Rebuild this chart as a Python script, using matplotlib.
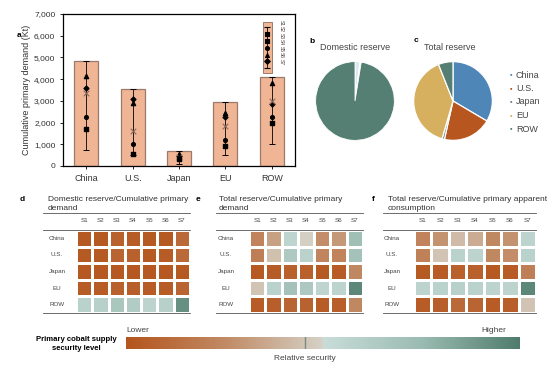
import matplotlib
matplotlib.use("Agg")
import matplotlib.pyplot as plt
import numpy as np
from matplotlib.colors import LinearSegmentedColormap
from matplotlib.patches import Rectangle
from matplotlib.lines import Line2D

plt.rcParams['font.family'] = ['Liberation Sans', 'DejaVu Sans']

# ---- data ----
regions = ['China', 'U.S.', 'Japan', 'EU', 'ROW']
demand_max = [4820, 3550, 700, 2950, 4100]
demand_min = [750, 500, 100, 500, 1000]
pt_tri = [4150, 2900, 550, 2450, 3800]
pt_dia = [3600, 3100, 480, 2250, 2850]
pt_x = [3350, 1600, 400, 1850, 3000]
pt_circ = [2250, 1000, 350, 1200, 2250]
pt_sq = [1700, 550, 300, 900, 2000]

domestic_share = [2.0, 0.2, 0.05, 0.3, 97.45]
total_share = [33.5, 20.0, 1.0, 39.5, 6.0]
pie_colors = ['#4e86b8', '#b8561f', '#6b8191', '#d6b05e', '#557f72']
pie_colors_b = ['#dde8f0', '#f0dcd0', '#e0e4e8', '#f3ead6', '#557f72']

scen = ['S1', 'S2', 'S3', 'S4', 'S5', 'S6', 'S7']
# 0 = lower security, 0.5 = relative security, 1 = higher
heat_d = [[0.03, 0.03, 0.06, 0.04, 0.03, 0.03, 0.10],
          [0.03, 0.03, 0.08, 0.06, 0.03, 0.04, 0.10],
          [0.02, 0.02, 0.02, 0.02, 0.02, 0.02, 0.03],
          [0.04, 0.04, 0.06, 0.05, 0.04, 0.04, 0.08],
          [0.58, 0.60, 0.67, 0.63, 0.57, 0.60, 0.92]]
heat_e = [[0.22, 0.33, 0.56, 0.49, 0.26, 0.30, 0.72],
          [0.20, 0.44, 0.65, 0.58, 0.23, 0.22, 0.70],
          [0.03, 0.04, 0.06, 0.06, 0.03, 0.04, 0.24],
          [0.45, 0.58, 0.70, 0.66, 0.56, 0.57, 0.95],
          [0.04, 0.05, 0.08, 0.07, 0.04, 0.05, 0.24]]
heat_f = [[0.22, 0.28, 0.42, 0.37, 0.24, 0.28, 0.57],
          [0.21, 0.45, 0.58, 0.57, 0.24, 0.26, 0.58],
          [0.03, 0.04, 0.06, 0.06, 0.03, 0.04, 0.20],
          [0.57, 0.58, 0.60, 0.58, 0.57, 0.57, 0.95],
          [0.04, 0.05, 0.10, 0.08, 0.04, 0.05, 0.45]]

W, H = 554, 369

def px(x0, y0, x1, y1):
    return [x0 / W, 1 - y1 / H, (x1 - x0) / W, (y1 - y0) / H]

def fx(x):
    return x / W

def fy(y):
    return 1 - y / H

fig = plt.figure(figsize=(5.54, 3.69), dpi=100)

# ---- panel a ----
ax = fig.add_axes(px(63, 14, 295, 166))
xs = np.arange(len(regions))
ax.bar(xs, demand_max, width=0.52, color='#f0b595', edgecolor='#9c7a6c', linewidth=0.9, zorder=1)
mid = (np.array(demand_max) + np.array(demand_min)) / 2
err = (np.array(demand_max) - np.array(demand_min)) / 2
ax.errorbar(xs, mid, yerr=err, fmt='none', ecolor='black', elinewidth=0.6, capsize=2.5, capthick=0.7, zorder=2)
ax.scatter(xs, pt_tri, marker='^', s=9, color='black', zorder=3)
ax.scatter(xs, pt_dia, marker='D', s=6, color='black', zorder=3)
ax.scatter(xs, pt_x, marker='x', s=16, color='#8a6a5e', linewidths=0.8, zorder=3)
ax.scatter(xs, pt_circ, marker='o', s=7, color='black', zorder=3)
ax.scatter(xs, pt_sq, marker='s', s=7, color='black', zorder=3)
ax.set_xlim(-0.5, 4.5)
ax.set_ylim(0, 7000)
ax.set_yticks(range(0, 7001, 1000))
ax.set_yticklabels(['{:,}'.format(v) for v in range(0, 7001, 1000)], fontsize=6, color='#333333')
ax.set_xticks(xs)
ax.set_xticklabels(regions, fontsize=6.5, color='#333333')
ax.tick_params(axis='both', length=2, width=0.6)
for s in ax.spines.values():
    s.set_linewidth(0.9)
ax.set_ylabel('Cumulative primary demand (Kt)', fontsize=6.5, color='#333333', labelpad=2)
fig.text(fx(17), fy(37), 'a', fontsize=6, fontweight='bold')

# rotated legend inside panel a
lg_x0, lg_x1 = 3.81, 4.0
ax.add_patch(Rectangle((lg_x0, 4300), lg_x1 - lg_x0, 2330, facecolor='#f0b595',
                       edgecolor='#9c7a6c', linewidth=0.7, zorder=4))
lg_mark = ['_', 's', 's', 'o', '^', 'D', '_']
lg_y = np.linspace(6400, 4500, 7)
lcx = (lg_x0 + lg_x1) / 2
ax.vlines(lcx, 4500, 6400, color='black', linewidth=0.6, zorder=5)
for m, yv in zip(lg_mark, lg_y):
    ax.scatter(lcx, yv, marker=m, s=8 if m != '_' else 18, color='black', linewidths=0.8, zorder=6)
for lab, yv in zip(scen, np.linspace(6600, 4800, 7)):
    ax.text(4.2, yv, lab, rotation=-90, fontsize=3.6, ha='center', va='center', color='#444444')

# ---- panel b / c pies ----
axb = fig.add_axes(px(315, 61, 395, 141))
axb.pie(domestic_share, colors=pie_colors_b, startangle=90, counterclock=False, radius=1.23,
        wedgeprops=dict(edgecolor='white', linewidth=0.6))
axb.set_aspect('equal')
fig.text(fx(355), fy(48), 'Domestic reserve', fontsize=6.5, ha='center', va='center', color='#444444')
fig.text(fx(309), fy(43), 'b', fontsize=6, fontweight='bold')

axc = fig.add_axes(px(413, 61, 493, 141))
axc.pie(total_share, colors=pie_colors, startangle=90, counterclock=False, radius=1.23,
        wedgeprops=dict(edgecolor='white', linewidth=0.9))
axc.set_aspect('equal')
fig.text(fx(450), fy(48), 'Total reserve', fontsize=6.5, ha='center', va='center', color='#444444')
fig.text(fx(414), fy(42), 'c', fontsize=6, fontweight='bold')

for i, (lab, c) in enumerate(zip(regions, pie_colors)):
    yy = fy(75 + i * 13.5)
    fig.text(fx(511), yy, '\u25aa', fontsize=5, color=c, ha='center', va='center')
    fig.text(fx(516), yy, lab, fontsize=6.5, color='#444444', ha='left', va='center')

# ---- heatmaps ----
cmap = LinearSegmentedColormap.from_list('sec', [
    (0.0, '#b5541c'), (0.25, '#c18a64'), (0.499, '#d5d2c7'),
    (0.501, '#c9ddd8'), (0.75, '#9bbcb2'), (1.0, '#4f7c6c')])

def heat(data, x0, x1, lab, lab_x, title, title_x, row_x, line_x0):
    a = fig.add_axes(px(x0, 230, x1, 313))
    a.pcolormesh(np.array(data), cmap=cmap, vmin=0, vmax=1, edgecolors='white', linewidth=0.8)
    a.set_xlim(0, 7)
    a.set_ylim(5, 0)
    a.axis('off')
    for j, s in enumerate(scen):
        a.text(j + 0.5, -0.55, s, fontsize=4.5, ha='center', va='center', color='#444444')
    for i, r in enumerate(regions):
        fig.text(fx(row_x), fy(230 + (i + 0.5) * 83 / 5), r, fontsize=4.5,
                 ha='center', va='center', color='#444444')
    for yl in (213, 230, 313):
        fig.add_artist(Line2D([fx(line_x0), fx(x1)], [fy(yl), fy(yl)], color='#555555', linewidth=0.6))
    fig.text(fx(lab_x), fy(199), lab, fontsize=6, fontweight='bold', va='center')
    fig.text(fx(title_x), fy(204), title, fontsize=6, va='center', color='#333333', linespacing=1.25)

heat(heat_d, 76, 190, 'd', 20, 'Domestic reserve/Cumulative primary\ndemand', 48, 57, 43)
heat(heat_e, 249, 363, 'e', 196, 'Total reserve/Cumulative primary\ndemand', 219, 226, 216)
heat(heat_f, 414, 536, 'f', 372, 'Total reserve/Cumulative primary apparent\nconsumption', 388, 392, 383)

# ---- colour scale bar ----
axs = fig.add_axes(px(126, 337, 520, 349))
grad = np.linspace(0, 1, 512).reshape(1, -1)
axs.imshow(grad, aspect='auto', cmap=cmap, extent=(0, 1, 0, 1))
axs.axvline(0.454, color='#7a8a86', linewidth=1.0)
axs.axis('off')
fig.text(fx(126), fy(330), 'Lower', fontsize=6, color='#444444', va='center')
fig.text(fx(506), fy(330), 'Higher', fontsize=6, color='#444444', va='center', ha='right')
fig.text(fx(305), fy(358), 'Relative security', fontsize=6, color='#444444', va='center', ha='center')
fig.text(fx(76), fy(344), 'Primary cobalt supply\nsecurity level', fontsize=5.6, fontweight='bold',
         ha='center', va='center', linespacing=1.25)

fig.savefig('out.png', dpi=100)
